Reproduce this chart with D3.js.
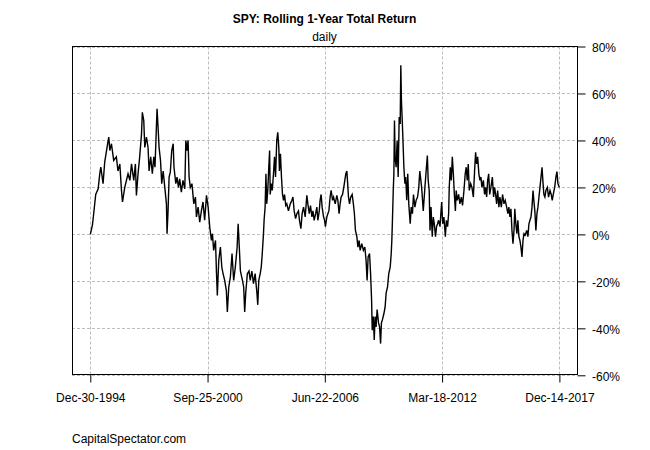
<!DOCTYPE html>
<html><head><meta charset="utf-8">
<script src="https://cdn.jsdelivr.net/npm/d3@7"></script>
<style>
body{margin:0;background:#fff}
svg{display:block}
text{font-family:"Liberation Sans",Arial,Helvetica,sans-serif}
</style>
</head><body><svg id="chart" width="650" height="450"></svg>
<script>
const title = "SPY: Rolling 1-Year Total Return";
const subtitle = "daily";
const credit = "CapitalSpectator.com";
const xTickLabels = ["Dec-30-1994","Sep-25-2000","Jun-22-2006","Mar-18-2012","Dec-14-2017"];
const yTicks = [-60,-40,-20,0,20,40,60,80];

// decimal year of each observation
const years = [
1994.997,1995.10,1995.16,1995.26,1995.38,1995.46,1995.51,1995.62,1995.70,1995.87,1995.90,1995.95,1996.03,1996.14,1996.27,1996.35,1996.44,1996.52,1996.57,1996.68,
1996.84,1996.93,1997.01,1997.12,1997.20,1997.25,1997.33,1997.41,1997.50,1997.54,1997.61,1997.66,1997.74,1997.82,1997.87,1997.95,1998.03,1998.10,1998.16,1998.26,
1998.31,1998.36,1998.43,1998.49,1998.56,1998.64,1998.72,1998.75,1998.80,1998.85,1998.91,1998.98,1999.05,1999.09,1999.18,1999.24,1999.31,1999.37,1999.45,1999.53,
1999.62,1999.67,1999.73,1999.78,1999.83,1999.89,1999.97,2000.06,2000.14,2000.19,2000.27,2000.35,2000.43,2000.51,2000.59,2000.68,2000.76,2000.84,2000.92,2000.97,
2001.03,2001.12,2001.17,2001.21,2001.28,2001.36,2001.43,2001.49,2001.57,2001.65,2001.70,2001.77,2001.85,2001.93,2002.01,2002.09,2002.18,2002.23,2002.27,2002.34,
2002.44,2002.50,2002.55,2002.60,2002.68,2002.76,2002.82,2002.90,2002.98,2003.06,2003.15,2003.19,2003.24,2003.31,2003.36,2003.41,2003.47,2003.50,2003.55,2003.59,
2003.63,2003.68,2003.73,2003.77,2003.80,2003.85,2003.90,2003.96,2004.01,2004.06,2004.12,2004.17,2004.22,2004.25,2004.30,2004.35,2004.40,2004.45,2004.50,2004.56,
2004.61,2004.69,2004.78,2004.86,2004.91,2004.97,2005.04,2005.10,2005.18,2005.23,2005.30,2005.36,2005.43,2005.51,2005.59,2005.64,2005.71,2005.77,2005.84,2005.89,
2005.95,2006.02,2006.08,2006.13,2006.20,2006.24,2006.29,2006.34,2006.41,2006.46,2006.50,2006.57,2006.62,2006.67,2006.73,2006.78,2006.85,2006.90,2006.98,2007.06,
2007.11,2007.17,2007.22,2007.27,2007.34,2007.40,2007.45,2007.50,2007.55,2007.58,2007.63,2007.68,2007.74,2007.81,2007.87,2007.92,2007.97,2008.04,2008.09,2008.15,
2008.20,2008.28,2008.36,2008.43,2008.49,2008.54,2008.59,2008.66,2008.71,2008.76,2008.79,2008.84,2008.89,2008.93,2008.98,2009.03,2009.10,2009.15,2009.20,2009.24,
2009.29,2009.36,2009.42,2009.47,2009.54,2009.60,2009.67,2009.72,2009.75,2009.78,2009.82,2009.85,2009.88,2009.91,2009.96,2010.01,2010.06,2010.11,2010.16,2010.19,
2010.22,2010.26,2010.29,2010.34,2010.39,2010.43,2010.48,2010.53,2010.58,2010.65,2010.70,2010.76,2010.81,2010.88,2010.94,2011.01,2011.07,2011.12,2011.21,2011.29,
2011.37,2011.42,2011.49,2011.53,2011.58,2011.62,2011.67,2011.73,2011.78,2011.83,2011.89,2011.94,2011.99,2012.04,2012.11,2012.15,2012.19,2012.24,2012.30,2012.37,
2012.42,2012.48,2012.53,2012.56,2012.61,2012.66,2012.71,2012.76,2012.81,2012.86,2012.90,2012.95,2013.02,2013.08,2013.15,2013.21,2013.28,2013.34,2013.39,2013.44,
2013.49,2013.54,2013.61,2013.67,2013.74,2013.80,2013.85,2013.90,2013.95,2014.01,2014.06,2014.11,2014.16,2014.23,2014.29,2014.34,2014.39,2014.44,2014.49,2014.54,
2014.60,2014.67,2014.73,2014.78,2014.83,2014.88,2014.93,2014.99,2015.04,2015.11,2015.17,2015.24,2015.30,2015.37,2015.43,2015.48,2015.53,2015.58,2015.63,2015.68,
2015.73,2015.77,2015.82,2015.87,2015.92,2015.97,2016.02,2016.07,2016.12,2016.17,2016.22,2016.28,2016.35,2016.41,2016.46,2016.51,2016.56,2016.61,2016.66,2016.70,
2016.75,2016.80,2016.85,2016.90,2016.95,2017.00,2017.05,2017.10,2017.14,2017.19,2017.24,2017.29,2017.36,2017.42,2017.49,2017.55,2017.60,2017.65,2017.72,2017.78,
2017.83,2017.88,2017.95
];
// rolling 1-year total return, percent
const returns = [
0,4,8.8,17,19.4,26,28.6,21.6,30.8,40,41.4,35.7,38.6,31.5,33,27,30,18.7,13.8,20,
25.8,23,30,23,30,16.6,25.8,33,42.8,52,48.5,37,41.4,37,27,33,25.8,33,28.6,53.5,
45.7,37,31.5,21.6,27,20,13,0.3,10,24.4,26.5,35.7,38.6,28.6,21.6,24.4,20,23.7,18,23,
19.4,40,35.7,40,24.4,20,21.6,13,15.9,7.4,11.6,5.2,10,13.8,6,16.6,11.6,3,-2.6,0.3,
-6.8,-2.6,-16.7,-26,-11,-5.4,-14,-16.7,-19.6,-23.8,-33,-22.4,-18,-8.2,-19.6,-14,-5.4,4.5,-2.6,-15.6,
-19.6,-22.4,-33,-25,-16.7,-15.6,-19.6,-15.6,-21,-16.7,-25,-30,-19.6,-16.7,-14,-8.2,0.3,6,11.6,25.8,
13,18.7,28.6,35.7,17,21.6,18.7,25.8,33,24.4,40,43.5,37,27,34.3,24.4,17,14.5,17,12.3,
13,10,13,14.5,15.9,10,6.7,8.8,10,6,2.4,8.8,11.6,7.4,16.6,13,8.8,12.3,7.4,10,
6,8.8,11.6,6,10,14.5,17,11.6,7.4,6,3.3,7.4,8.8,10,15.9,18.7,14.5,15.9,13,16.6,
14.5,8.8,13,15.9,17,20,23,25.8,27,23,15.9,13,15.9,17,13,8.8,1.7,-1,-5.4,-2.6,
-6.8,-4,-6.8,-5.4,-11,-19.6,-9.6,-8.2,-16.7,-28,-40.8,-35,-45,-35,-39.4,-32,-37.7,-39.4,-46.5,-37.7,
-36.3,-33.8,-31,-25,-22.4,-16.7,-14,-8.2,-2.6,6,18.7,25.8,48.5,33,28.6,40,24.4,50,47,72,
57,48.5,41.4,28.6,21.6,24.4,14.5,25.8,13,4.5,11.6,8.8,17,11.6,14.5,15.9,20,27,20,10,
20,25.8,33.6,23,18.7,1.7,11.6,-1,7.4,4.5,-1,3.3,4.5,6,3.3,8.8,13.8,4.5,7.4,-1,
6,3.3,8.8,20,28.6,23,33,25.8,17,10,18.7,14.5,17,13,15.9,12.3,18.7,25.8,28.6,23,
30,18.7,21.6,20,15.9,27,35,30,33,25.8,23,24.4,20,23,17,20,15.9,23,25.8,17,
20,24.4,15.9,20,17,13,18.7,11.6,15.9,11.6,17,13,14.5,11.6,8.8,11.6,7.4,10.9,1.7,-4,
1.7,10.9,4.5,0.3,6,-1,-2.6,-5.4,-9.6,-2.6,0.3,-0.3,1.7,-1,4.5,6,7.4,11.6,18.7,14.5,
9.8,1.7,8.8,11.6,15.9,20,24.4,28.6,23,17,15.9,18.7,20,15.9,18.7,17,14.5,17,20,24.4,
26.7,21.6,20
];

const svg = d3.select("#chart");
const parse = d3.timeParse("%b-%d-%Y");
const fmt = d3.timeFormat("%b-%d-%Y");
const tickDates = xTickLabels.map(parse);

function decToDate(yv){
  const yr = Math.floor(yv);
  const s = new Date(yr,0,1), e = new Date(yr+1,0,1);
  return new Date(+s + (yv-yr)*(e-s));
}
const data = years.map((yv,i)=>({date:decToDate(yv), v:returns[i]}));

const box = {l:72, r:577, t:46.5, b:375.3};
const x = d3.scaleTime().domain([tickDates[0], tickDates[tickDates.length-1]]).range([90.3, 559.4]);
const y = d3.scaleLinear().domain([-60,80]).range([box.b, box.t]);

// grid
const grid = svg.append("g").attr("stroke","#bdbdbd").attr("stroke-width",1).attr("stroke-dasharray","3,2");
grid.selectAll("line.h").data(yTicks).join("line").attr("class","h")
  .attr("x1",box.l).attr("x2",box.r).attr("y1",d=>Math.round(y(d))+0.5).attr("y2",d=>Math.round(y(d))+0.5);
grid.selectAll("line.v").data(tickDates).join("line").attr("class","v")
  .attr("y1",box.t).attr("y2",box.b).attr("x1",d=>Math.round(x(d))+0.5).attr("x2",d=>Math.round(x(d))+0.5);

// series
const line = d3.line().x(d=>x(d.date)).y(d=>y(d.v)).curve(d3.curveLinear);
svg.append("path").datum(data).attr("fill","none").attr("stroke","#000").attr("stroke-width",1.4)
  .attr("stroke-linejoin","miter").attr("d",line);

// frame
svg.append("rect").attr("x",box.l+0.5).attr("y",Math.round(box.t)-0.5).attr("width",box.r-box.l).attr("height",Math.round(box.b)-Math.round(box.t))
  .attr("fill","none").attr("stroke","#000").attr("stroke-width",1);

// right axis
const ya = svg.append("g").attr("transform",`translate(${box.r+0.5},0)`)
  .call(d3.axisRight(y).tickValues(yTicks).tickSize(8).tickPadding(6.5).tickFormat(d=>d+"%"));
ya.select(".domain").remove();
ya.selectAll("line").attr("stroke","#000");
ya.selectAll("text").attr("font-size",12).attr("fill","#000").attr("dy","0.42em")
  .attr("font-family","'Liberation Sans',Arial,sans-serif");

// bottom axis
const xa = svg.append("g").attr("transform",`translate(0,${Math.round(box.b)-0.5})`)
  .call(d3.axisBottom(x).tickValues(tickDates).tickSize(8).tickPadding(10.5).tickFormat(fmt));
xa.select(".domain").remove();
xa.selectAll("line").attr("stroke","#000");
xa.selectAll("text").attr("font-size",12).attr("fill","#000")
  .attr("font-family","'Liberation Sans',Arial,sans-serif");

// titles
svg.append("text").attr("x",(box.l+box.r)/2).attr("y",23).attr("text-anchor","middle")
  .attr("font-size",12).attr("font-weight","bold").text(title);
svg.append("text").attr("x",(box.l+box.r)/2).attr("y",40.5).attr("text-anchor","middle")
  .attr("font-size",12).text(subtitle);
svg.append("text").attr("x",72).attr("y",443).attr("font-size",12).text(credit);
</script>
</body></html>
